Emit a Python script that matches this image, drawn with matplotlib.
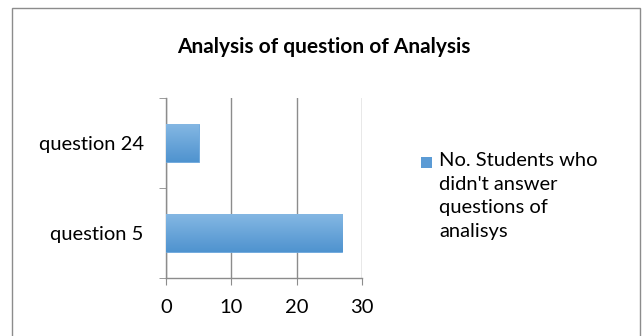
import matplotlib
matplotlib.use("Agg")
import matplotlib.pyplot as plt
from matplotlib.patches import Rectangle
from matplotlib.colors import LinearSegmentedColormap
import numpy as np

categories = ["question 5", "question 24"]
values = [27, 5]
series_name = "No. Students who\ndidn't answer\nquestions of\nanalisys"
title = "Analysis of question of Analysis"
xticks = [0, 10, 20, 30]

plt.rcParams['font.family'] = ['Lato', 'DejaVu Sans']

W, H = 643, 336
fig = plt.figure(figsize=(W/100, H/100), dpi=100)
fig.patch.set_facecolor('white')

# outer frame
fig.add_artist(Rectangle((12/W, -0.05), (640-12)/W, (H-8)/H + 0.05,
                         transform=fig.transFigure, fill=False,
                         edgecolor='#8c8c8c', linewidth=1.0))

ax = fig.add_axes([166/W, 1-278/H, (362-166)/W, (278-98)/H])
y = np.arange(len(categories))
bars = ax.barh(y, values, height=0.42, color='#5b9bd5', edgecolor='#6aa6dc', linewidth=0.6, zorder=3)

grad = np.linspace(0, 1, 100).reshape(-1, 1)
cmap = LinearSegmentedColormap.from_list('g', ['#4f93cf', '#84b7e3'])
for b in bars:
    x0, y0 = b.get_x(), b.get_y()
    w, h = b.get_width(), b.get_height()
    im = ax.imshow(grad, extent=[x0, x0 + w, y0, y0 + h], aspect='auto',
                   cmap=cmap, origin='lower', zorder=4)
    im.set_clip_path(b)

fs = 14.5
ax.set_xlim(0, 30)
ax.set_ylim(-0.5, len(categories) - 0.5)
ax.set_xticks(xticks)
ax.set_xticklabels([str(t) for t in xticks], fontsize=fs)
ax.set_yticks(y)
ax.set_yticklabels(categories, fontsize=fs)
ax.tick_params(axis='y', length=0, pad=16)
ax.tick_params(axis='x', length=5, color='#8c8c8c', pad=10)
ax.set_yticks([-0.5, 0.5, 1.5], minor=True)
ax.tick_params(axis='y', which='minor', length=5, color='#8c8c8c')
ax.grid(axis='x', color='#8c8c8c', linewidth=1.0, zorder=0)
for s in ['top', 'right']:
    ax.spines[s].set_visible(False)
for s in ['left', 'bottom']:
    ax.spines[s].set_color('#8c8c8c')
    ax.spines[s].set_linewidth(1.0)

fig.text(324/W, 1 - 47/H, title, ha='center', va='center',
         fontsize=15, fontweight='bold')

# legend
fig.add_artist(Rectangle((421/W, 1-168/H), 11/W, 11/H, transform=fig.transFigure,
                         facecolor='#5b9bd5', edgecolor='none'))
fig.text(439/W, 1-152/H, series_name, ha='left', va='top', fontsize=fs,
         linespacing=1.47)

fig.savefig('out.png', dpi=100)
